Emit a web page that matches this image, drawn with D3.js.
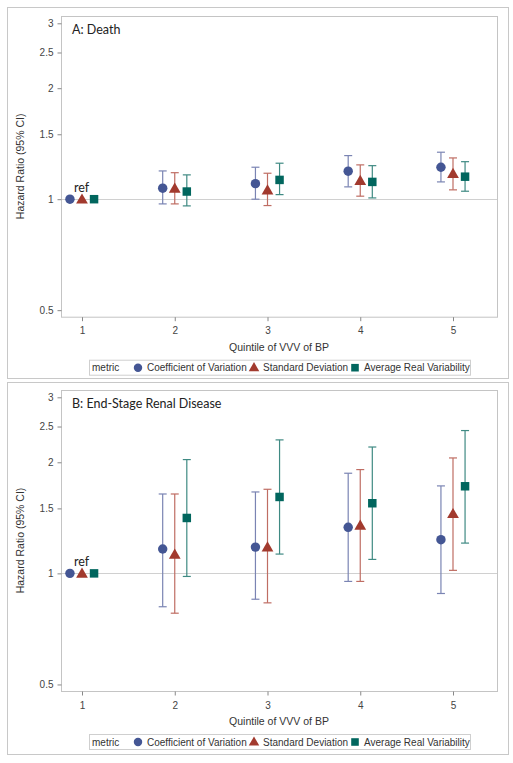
<!DOCTYPE html>
<html><head><meta charset="utf-8">
<script src="https://cdn.jsdelivr.net/npm/d3@7"></script>
<style>
html,body{margin:0;padding:0;background:#fff;}
svg{display:block;}
</style></head>
<body>
<svg id="chart" width="513" height="763"></svg>
<script>
// ---- Data ----
const quintiles = [1, 2, 3, 4, 5];
const metrics = ["Coefficient of Variation", "Standard Deviation", "Average Real Variability"];
const yTicks = [0.5, 1, 1.5, 2, 2.5, 3];
const panelTitles = ["A: Death", "B: End-Stage Renal Disease"];

// Panel A: Death
const deathCV_hr    = [1, 1.071, 1.102, 1.191, 1.221];
const deathCV_lo    = [null, 0.971, 1.000, 1.080, 1.114];
const deathCV_hi    = [null, 1.193, 1.221, 1.313, 1.341];
const deathSD_hr    = [1, 1.070, 1.058, 1.123, 1.173];
const deathSD_lo    = [null, 0.971, 0.961, 1.019, 1.060];
const deathSD_hi    = [null, 1.180, 1.176, 1.239, 1.294];
const deathARV_hr   = [1, 1.049, 1.128, 1.114, 1.151];
const deathARV_lo   = [null, 0.959, 1.029, 1.008, 1.051];
const deathARV_hi   = [null, 1.164, 1.252, 1.233, 1.264];

// Panel B: End-Stage Renal Disease
const esrdCV_hr     = [1, 1.164, 1.178, 1.333, 1.234];
const esrdCV_lo     = [null, 0.812, 0.851, 0.951, 0.882];
const esrdCV_hi     = [null, 1.641, 1.662, 1.868, 1.726];
const esrdSD_hr     = [1, 1.126, 1.178, 1.350, 1.451];
const esrdSD_lo     = [null, 0.780, 0.832, 0.951, 1.019];
const esrdSD_hi     = [null, 1.641, 1.690, 1.911, 2.055];
const esrdARV_hr    = [1, 1.413, 1.611, 1.549, 1.722];
const esrdARV_lo    = [null, 0.981, 1.128, 1.091, 1.208];
const esrdARV_hi    = [null, 2.034, 2.300, 2.200, 2.438];

const panels = [
  { title: panelTitles[0], series: [
    { hr: deathCV_hr, lo: deathCV_lo, hi: deathCV_hi },
    { hr: deathSD_hr, lo: deathSD_lo, hi: deathSD_hi },
    { hr: deathARV_hr, lo: deathARV_lo, hi: deathARV_hi } ] },
  { title: panelTitles[1], series: [
    { hr: esrdCV_hr, lo: esrdCV_lo, hi: esrdCV_hi },
    { hr: esrdSD_hr, lo: esrdSD_lo, hi: esrdSD_hi },
    { hr: esrdARV_hr, lo: esrdARV_lo, hi: esrdARV_hi } ] }
];

// ---- Styles ----
const markerColors = ["#445694", "#A23A2E", "#01665E"];
const barColors = ["#7a84b3", "#bf6d63", "#3f8a83"];
const symbols = [d3.symbolCircle, d3.symbolTriangle, d3.symbolSquare];
const symSizes = [70, 60, 72];
const offsets = [-0.13, 0, 0.13];
const tickFont = "'Liberation Sans', Arial, sans-serif";
const titleFont = "Lato, 'Open Sans', sans-serif";

const svg = d3.select("#chart");

const panelBoxes = [
  { ox: 7, oy: 7, ow: 501, oh: 371, plotTop: 16, plotBottom: 316.7 },
  { ox: 7, oy: 382, ow: 501, oh: 372, plotTop: 390, plotBottom: 691 }
];
const plotLeft = 61, plotRight = 497;

panels.forEach((p, pi) => {
  const b = panelBoxes[pi];
  const g = svg.append("g");

  g.append("rect").attr("x", b.ox + 0.5).attr("y", b.oy + 0.5)
    .attr("width", b.ow).attr("height", b.oh)
    .attr("fill", "#fff").attr("stroke", "#c8c8c8").attr("stroke-width", 1);

  const x = d3.scaleLinear().domain([1, 5]).range([82, 453]);
  const y = d3.scaleLog().domain([0.48, 3.14]).range([b.plotBottom, b.plotTop]);

  // plot area
  g.append("rect").attr("x", plotLeft + 0.5).attr("y", b.plotTop + 0.5)
    .attr("width", plotRight - plotLeft).attr("height", b.plotBottom - b.plotTop)
    .attr("fill", "none").attr("stroke", "#c4c4c4");

  // reference line at 1
  g.append("line").attr("x1", plotLeft + 1).attr("x2", plotRight)
    .attr("y1", Math.round(y(1)) + 0.5).attr("y2", Math.round(y(1)) + 0.5)
    .attr("stroke", "#d0d0d0").attr("stroke-width", 1);

  // y axis
  const yAxis = d3.axisLeft(y).tickValues(yTicks).tickFormat(d3.format("")).tickSize(4).tickPadding(4);
  const ya = g.append("g").attr("transform", `translate(${plotLeft + 0.5},0)`).call(yAxis);
  ya.select(".domain").remove();
  ya.selectAll("line").attr("stroke", "#888");
  ya.selectAll("text").attr("fill", "#444").attr("font-family", tickFont).attr("font-size", 10);

  // x axis
  const xAxis = d3.axisBottom(x).tickValues(quintiles).tickFormat(d3.format("d")).tickSize(4).tickPadding(6);
  const xa = g.append("g").attr("transform", `translate(0,${b.plotBottom + 0.5})`).call(xAxis);
  xa.select(".domain").remove();
  xa.selectAll("line").attr("stroke", "#888");
  xa.selectAll("text").attr("fill", "#444").attr("font-family", tickFont).attr("font-size", 10);

  // axis labels
  g.append("text").attr("x", (plotLeft + plotRight) / 2).attr("y", b.plotBottom + 34)
    .attr("text-anchor", "middle").attr("font-family", tickFont).attr("font-size", 10.5)
    .attr("fill", "#333").text("Quintile of VVV of BP");
  g.append("text")
    .attr("transform", `translate(24,${(b.plotTop + b.plotBottom) / 2}) rotate(-90)`)
    .attr("text-anchor", "middle").attr("font-family", tickFont).attr("font-size", 10.5)
    .attr("fill", "#333").text("Hazard Ratio (95% CI)");

  // title
  g.append("text").attr("x", 72).attr("y", b.plotTop + 18)
    .attr("font-family", titleFont).attr("font-size", 12.5).attr("fill", "#222").text(p.title);

  // ref label
  g.append("text").attr("x", 74).attr("y", y(1) - 7)
    .attr("font-family", titleFont).attr("font-size", 12.5).attr("fill", "#222").text("ref");

  // series
  p.series.forEach((s, si) => {
    const sg = g.append("g");
    const pts = quintiles.map((q, i) => ({ q, hr: s.hr[i], lo: s.lo[i], hi: s.hi[i] }));
    const ci = pts.filter(d => d.lo !== null);
    const cx = d => x(d.q + offsets[si]);
    sg.selectAll(".bar").data(ci).join("line")
      .attr("x1", cx).attr("x2", cx).attr("y1", d => y(d.lo)).attr("y2", d => y(d.hi))
      .attr("stroke", barColors[si]).attr("stroke-width", 1.2);
    ["lo", "hi"].forEach(k => {
      sg.selectAll(".cap" + k).data(ci).join("line")
        .attr("x1", d => cx(d) - 4).attr("x2", d => cx(d) + 4)
        .attr("y1", d => y(d[k])).attr("y2", d => y(d[k]))
        .attr("stroke", barColors[si]).attr("stroke-width", 1.2);
    });
    sg.selectAll(".pt").data(pts).join("path")
      .attr("d", d3.symbol().type(symbols[si]).size(symSizes[si]))
      .attr("transform", d => `translate(${cx(d)},${y(d.hr) + (si === 1 ? 1 : 0)})`)
      .attr("fill", markerColors[si]);
  });

  // legend
  const ly = b.plotBottom + 43;
  const lg = g.append("g");
  lg.append("rect").attr("x", 89.5).attr("y", ly + 0.5).attr("width", 381).attr("height", 15)
    .attr("fill", "#fff").attr("stroke", "#cfcfcf");
  const lt = ly + 11.5;
  lg.append("text").attr("x", 92).attr("y", lt).attr("font-family", tickFont).attr("font-size", 10)
    .attr("fill", "#333").text("metric");
  const legX = [138, 254, 355];
  metrics.forEach((m, mi) => {
    lg.append("path").attr("d", d3.symbol().type(symbols[mi]).size(symSizes[mi] * 0.8))
      .attr("transform", `translate(${legX[mi]},${ly + 8 + (mi === 1 ? 0.5 : 0)})`)
      .attr("fill", markerColors[mi]);
    lg.append("text").attr("x", legX[mi] + 9).attr("y", lt).attr("font-family", tickFont)
      .attr("font-size", 10).attr("fill", "#333").text(m);
  });
});
</script>
</body></html>
